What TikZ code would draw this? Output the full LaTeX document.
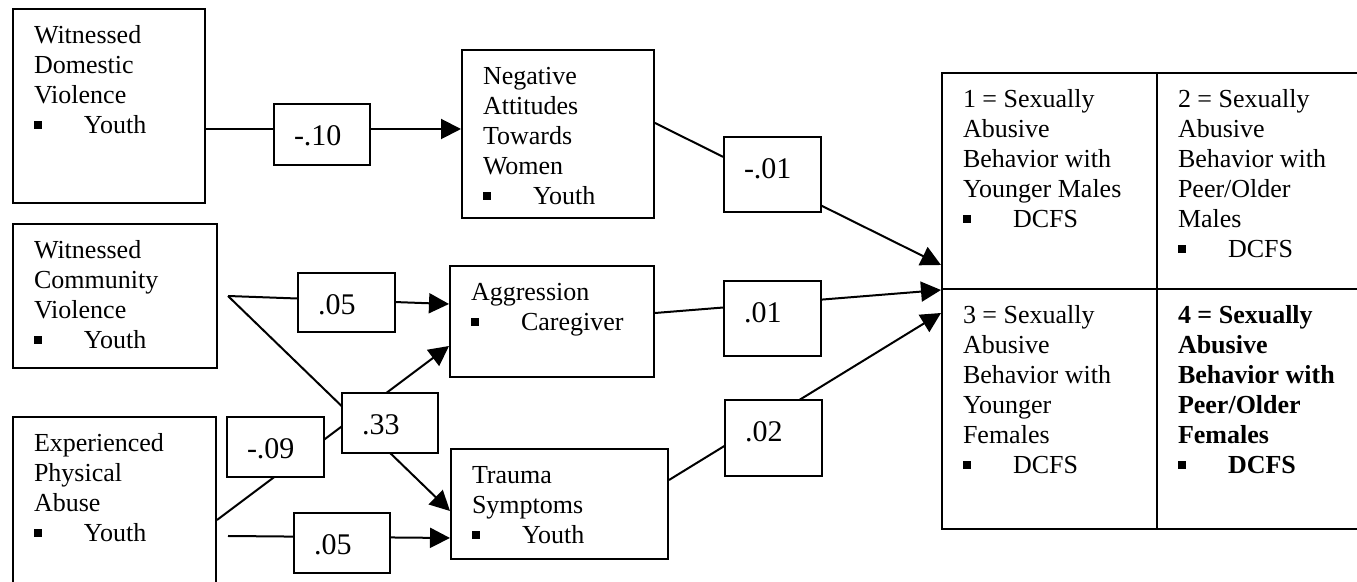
\documentclass[tikz,border=0pt]{standalone}
\usepackage{fontspec}
\setmainfont{Liberation Serif}
\usetikzlibrary{arrows.meta}

\newcommand{\vartext}[3]{\parbox[c][#2][t]{#1}{\leftskip=10.5pt\rule{0pt}{17.5pt}#3}}
\newcommand{\coeftext}[3]{\parbox[c][#2][t]{#1}{\leftskip=10pt\rule{0pt}{21pt}#3}}
\newcommand{\bul}{\makebox[25pt][l]{\rule[2.5pt]{4pt}{4pt}}}

\begin{document}
\begin{tikzpicture}[x=0.5pt, y=-0.5pt,
    varbox/.style={draw, line width=1pt, fill=white, anchor=north west, inner sep=0pt, font=\fontsize{13}{15}\selectfont},
    coefbox/.style={varbox, font=\fontsize{15}{17}\selectfont},
    link/.style={line width=1pt},
    arrowlink/.style={link, -{Triangle[length=10pt, width=10pt]}}]
	\clip (0,0) rectangle (1357,582);
	% predictors
	\node[varbox] (wdv) at (12,8) {\vartext{96pt}{97pt}{Witnessed\\Domestic\\Violence\\\bul Youth}};
	\node[varbox] (wcv) at (12,223) {\vartext{102pt}{72pt}{Witnessed\\Community\\Violence\\\bul Youth}};
	\node[varbox] (epa) at (12,416) {\vartext{101.5pt}{100pt}{Experienced\\Physical\\Abuse\\\bul Youth}};
	% mediators
	\node[varbox] (natw) at (461,49) {\vartext{96pt}{84pt}{Negative\\Attitudes\\Towards\\Women\\\bul Youth}};
	\node[varbox] (agg) at (449,265) {\vartext{102pt}{55.5pt}{Aggression\\\bul Caregiver}};
	\node[varbox] (trauma) at (450,448) {\vartext{108.5pt}{55pt}{Trauma\\Symptoms\\\bul Youth}};
	% outcome grid
	\node[varbox] (out1) at (941,72) {\vartext{107.5pt}{108pt}{1 = Sexually\\Abusive\\Behavior with\\Younger Males\\\bul DCFS}};
	\node[varbox] (out2) at (1156,72) {\vartext{110pt}{108pt}{2 = Sexually\\Abusive\\Behavior with\\Peer/Older\\Males\\\bul DCFS}};
	\node[varbox] (out3) at (941,288) {\vartext{107.5pt}{120pt}{3 = Sexually\\Abusive\\Behavior with\\Younger\\Females\\\bul DCFS}};
	\node[varbox] (out4) at (1156,288) {\vartext{110pt}{120pt}{\bfseries 4 = Sexually\\Abusive\\Behavior with\\Peer/Older\\Females\\\bul DCFS}};

	\draw[arrowlink] ([yshift=-11.5pt]wdv.east) -- ([yshift=2.5pt]natw.west);
	\draw[arrowlink] ([xshift=5pt]wcv.east) -- ([yshift=8.75pt]agg.west);
	\draw[arrowlink] ([xshift=5pt]wcv.east) -- ([yshift=-3.5pt]trauma.west);
	\draw[arrowlink] ([yshift=-1.5pt]epa.east) -- ([yshift=-12.25pt]agg.west);
	\draw[arrowlink] ([xshift=5.5pt,yshift=-9.5pt]epa.east) -- ([yshift=-17pt]trauma.west);
	\draw[arrowlink] ([yshift=5.5pt]natw.east) -- ([yshift=12.5pt]out1.south west);
	\draw[arrowlink] ([yshift=4.25pt]agg.east) -- (out1.south west);
	\draw[arrowlink] ([yshift=12pt]trauma.east) -- ([yshift=-12.5pt]out3.north west);

	% path coefficients
	\node[coefbox] (c10) at (273,103) {\coeftext{48pt}{30.5pt}{-.10}};
	\node[coefbox] (c05a) at (297,272) {\coeftext{48.5pt}{29.5pt}{.05}};
	\node[coefbox] (c33) at (341,392) {\coeftext{48pt}{30pt}{.33}};
	\node[coefbox] (c09) at (226,416) {\coeftext{48.5pt}{30pt}{-.09}};
	\node[coefbox] (c05b) at (293,512) {\coeftext{48pt}{30pt}{.05}};
	\node[coefbox] (cn01) at (723,136) {\coeftext{48.5pt}{37.5pt}{-.01}};
	\node[coefbox] (c01) at (723,280) {\coeftext{48.5pt}{37.5pt}{.01}};
	\node[coefbox] (c02) at (724,399) {\coeftext{48.5pt}{38pt}{.02}};
\end{tikzpicture}
\end{document}
